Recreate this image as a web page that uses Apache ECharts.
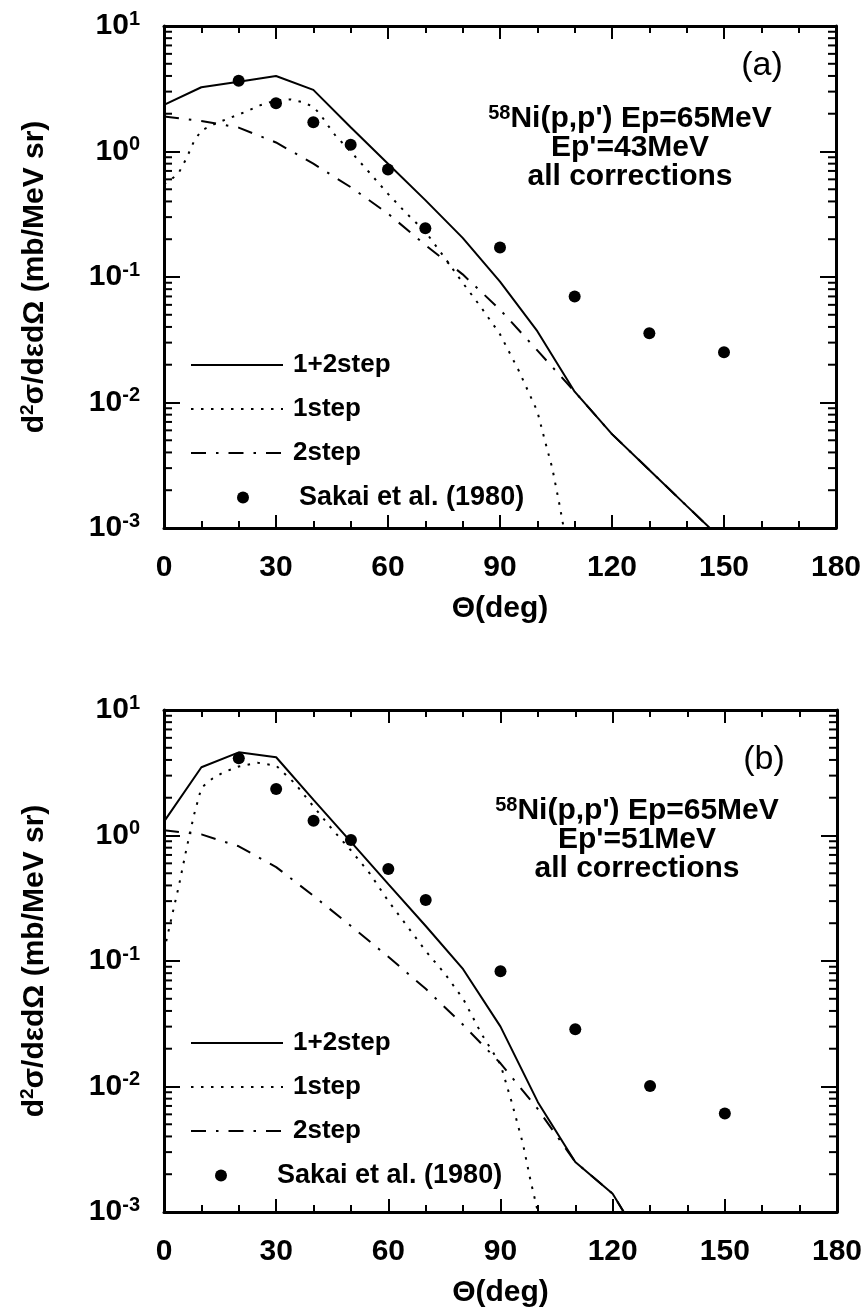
<!DOCTYPE html>
<html>
<head>
<meta charset="utf-8">
<script src="https://cdn.jsdelivr.net/npm/echarts@6/dist/echarts.min.js"></script>
<style>
  html, body { margin: 0; padding: 0; background: #fff; }
  #chart { width: 867px; height: 1313px; }
</style>
</head>
<body>
<div id="chart"></div>
<script>
// ---- data ---------------------------------------------------------------
// measured angles (deg) of the Sakai et al. (1980) points
const expAngles = [20, 30, 40, 50, 60, 70, 90, 110, 130, 150];

// (a) Ep' = 43 MeV
const sakaiA = [3.66, 2.42, 1.71, 1.13, 0.72, 0.245, 0.172, 0.070, 0.0356, 0.0251];
const calcAnglesA = [0, 10, 20, 30, 40, 50, 60, 70, 80, 90, 100, 110, 120, 130, 140, 150];
const totalA   = [2.35, 3.25, 3.6, 4.0, 3.1, 1.56, 0.80, 0.41, 0.205, 0.092, 0.037, 0.0122, 0.0056, 0.0029, 0.0015, 0.00078];
const twoStepA = [1.9, 1.75, 1.55, 1.18, 0.80, 0.52, 0.32, 0.18, 0.105, 0.055, 0.026, 0.0122, 0.0056, 0.0029, 0.0015, 0.00078];
const oneStepAnglesA = [0, 2, 4, 6, 8, 10, 14, 18, 22, 26, 30, 34, 37, 40, 42, 44, 46, 50, 55, 60, 65, 70, 75, 80, 85, 90, 95, 100, 102, 104, 106, 108];
const oneStepA = [0.55, 0.6, 0.68, 0.88, 1.2, 1.47, 1.68, 1.87, 2.08, 2.35, 2.55, 2.6, 2.48, 2.27, 1.95, 1.6, 1.33, 1.0, 0.68, 0.46, 0.32, 0.23, 0.145, 0.09, 0.057, 0.035, 0.018, 0.0085, 0.005, 0.003, 0.0015, 0.0007];

// (b) Ep' = 51 MeV
const sakaiB = [4.12, 2.35, 1.31, 0.92, 0.54, 0.306, 0.083, 0.0286, 0.0101, 0.0061];
const calcAnglesB = [0, 10, 20, 30, 40, 50, 60, 70, 80, 90, 100, 110, 120, 130];
const totalB   = [1.29, 3.5, 4.6, 4.2, 1.92, 0.89, 0.41, 0.19, 0.086, 0.030, 0.0075, 0.0025, 0.0014, 0.00045];
const twoStepB = [1.1, 1.02, 0.82, 0.56, 0.33, 0.19, 0.108, 0.06, 0.031, 0.0153, 0.0066, 0.0025, 0.0014, 0.00045];
const oneStepAnglesB = [0, 2, 4, 6, 8, 10, 13, 16, 20, 25, 30, 35, 40, 45, 50, 55, 60, 65, 70, 75, 80, 85, 90, 93, 96, 98, 100, 102];
const oneStepB = [0.12, 0.22, 0.4, 0.78, 1.45, 2.4, 2.85, 3.2, 3.55, 3.8, 3.6, 2.6, 1.7, 1.12, 0.76, 0.5, 0.3, 0.19, 0.12, 0.08, 0.05, 0.026, 0.015, 0.0075, 0.0035, 0.0018, 0.001, 0.0005];

// axis ranges and tick labels
const xTickLabels = [0, 30, 60, 90, 120, 150, 180];
const yDecades = [-3, -2, -1, 0, 1];

// ---- helpers ------------------------------------------------------------
const FONT = "'Liberation Sans', Arial, Helvetica, sans-serif";
const pairs = (xs, ys) => xs.map((x, i) => [x, ys[i]]);

// 2..9 x 10^k positions for the log-axis minor ticks
const logMinorTicks = [];
for (let i = 0; i < yDecades.length - 1; i++) {
  for (let m = 2; m <= 9; m++) {
    logMinorTicks.push(Number((m * Math.pow(10, yDecades[i])).toPrecision(3)));
  }
}

const black = '#000';
const frame = { lineStyle: { color: black, width: 3 } };

function xAxisPair(g) {
  const base = {
    type: 'value', gridIndex: g, min: xTickLabels[0], max: xTickLabels[xTickLabels.length - 1], interval: 30,
    axisLine: { onZero: false, ...frame },
    axisTick: { inside: true, length: 13, lineStyle: { color: black, width: 2 } },
    minorTick: { show: true, splitNumber: 3, length: 7, lineStyle: { color: black, width: 2 } },
    splitLine: { show: false }, minorSplitLine: { show: false }
  };
  return [
    { ...base, position: 'bottom',
      axisLabel: { margin: 25, fontSize: 30, fontWeight: 'bold', fontFamily: FONT, color: black },
      name: 'Θ(deg)', nameLocation: 'middle', nameGap: 66,
      nameTextStyle: { fontSize: 30, fontWeight: 'bold', fontFamily: FONT, color: black } },
    { ...base, position: 'top', axisLabel: { show: false } }
  ];
}

function yAxisPair(g) {
  const base = {
    type: 'log', logBase: 10, gridIndex: g,
    min: Math.pow(10, yDecades[0]), max: Math.pow(10, yDecades[yDecades.length - 1]),
    axisLine: { onZero: false, ...frame },
    axisTick: { inside: true, length: 16, lineStyle: { color: black, width: 2 } },
    splitLine: { show: false }
  };
  return [
    { ...base, position: 'left',
      axisLabel: {
        margin: 24, color: black,
        formatter: v => '{b|10}{s|' + Math.round(Math.log10(v)) + '}',
        rich: {
          b: { fontSize: 30, fontWeight: 'bold', fontFamily: FONT, color: black, lineHeight: 34 },
          s: { fontSize: 20, fontWeight: 'bold', fontFamily: FONT, color: black, verticalAlign: 'top', lineHeight: 20 }
        }
      },
      name: '{a|d}{s|2}{a|σ/dεdΩ (mb/MeV sr)}', nameLocation: 'middle', nameRotate: 90, nameGap: 112,
      nameTextStyle: {
        rich: {
          a: { fontSize: 30, fontWeight: 'bold', fontFamily: FONT, color: black, lineHeight: 34 },
          s: { fontSize: 19, fontWeight: 'bold', fontFamily: FONT, color: black, verticalAlign: 'top', lineHeight: 19 }
        }
      } },
    { ...base, position: 'right', axisLabel: { show: false } }
  ];
}

const solidStyle = { color: black, width: 2, type: 'solid' };
const dotStyle = { color: black, width: 2, type: [2.5, 7.5] };
const dashDotStyle = { color: black, width: 2, type: [15, 10, 2.5, 10] };

function panelSeries(xi, yi, total, two, oneAngles, one, calcAngles, sakai) {
  const line = (name, data, ls) => ({
    name, type: 'line', xAxisIndex: xi, yAxisIndex: yi, data,
    symbol: 'none', smooth: false, lineStyle: ls, itemStyle: { color: black }, z: 3
  });
  return [
    line('1+2step', pairs(calcAngles, total), solidStyle),
    line('1step', pairs(oneAngles, one), dotStyle),
    line('2step', pairs(calcAngles, two), dashDotStyle),
    { name: 'Sakai et al. (1980)', type: 'scatter', xAxisIndex: xi, yAxisIndex: yi,
      data: pairs(expAngles, sakai), symbol: 'circle', symbolSize: 12,
      itemStyle: { color: black, opacity: 1 }, z: 4 },
    { type: 'custom', xAxisIndex: xi, yAxisIndex: yi, silent: true, clip: false, z: 5,
      data: logMinorTicks.map(v => [0, v]),
      renderItem(params, api) {
        const v = api.value(1);
        const l = api.coord([0, v]);
        const r = api.coord([180, v]);
        const st = { stroke: black, lineWidth: 2 };
        return { type: 'group', children: [
          { type: 'line', shape: { x1: l[0], y1: l[1], x2: l[0] + 8, y2: l[1] }, style: st },
          { type: 'line', shape: { x1: r[0] - 8, y1: r[1], x2: r[0], y2: r[1] }, style: st }
        ] };
      } }
  ];
}

const legendText = { fontSize: 26, fontWeight: 'bold', fontFamily: FONT, color: black, padding: [0, 0, 0, 5] };
function lineLegend(left, top) {
  return { data: ['1+2step', '1step', '2step'], orient: 'vertical', left, top, padding: 0,
    itemWidth: 92, itemHeight: 14, itemGap: 18, selectedMode: false,
    itemStyle: { opacity: 0 }, textStyle: legendText };
}
function dotLegend(left, top) {
  return { data: ['Sakai et al. (1980)'], orient: 'vertical', left, top, padding: 0,
    itemWidth: 92, itemHeight: 12, selectedMode: false,
    itemStyle: { opacity: 1 },
    textStyle: { ...legendText, fontSize: 27 } };
}

function annotation(tag, tagX, tagY, cx, y0, epPrime) {
  const t = { fontSize: 30, fontWeight: 'bold', fontFamily: FONT, fill: black };
  return [
    { type: 'text', x: tagX, y: tagY, silent: true,
      style: { text: tag, fontSize: 34, fontWeight: 'normal', fontFamily: FONT, fill: black, align: 'center', verticalAlign: 'middle' } },
    { type: 'text', x: cx, y: y0, silent: true,
      style: { text: '{s|58}{t|Ni(p,p\') Ep=65MeV}', align: 'center', verticalAlign: 'middle',
        rich: { t: { ...t, lineHeight: 32 }, s: { fontSize: 20, fontWeight: 'bold', fontFamily: FONT, fill: black, verticalAlign: 'top', lineHeight: 20 } } } },
    { type: 'text', x: cx, y: y0 + 29, silent: true,
      style: { text: epPrime, ...t, align: 'center', verticalAlign: 'middle' } },
    { type: 'text', x: cx, y: y0 + 58, silent: true,
      style: { text: 'all corrections', ...t, align: 'center', verticalAlign: 'middle' } }
  ];
}

const chart = echarts.init(document.getElementById('chart'), null, { renderer: 'canvas' });
chart.setOption({
  animation: false,
  backgroundColor: '#fff',
  grid: [
    { left: 164, top: 26, width: 672, height: 502 },
    { left: 164, top: 710, width: 673, height: 502 }
  ],
  xAxis: [...xAxisPair(0), ...xAxisPair(1)],
  yAxis: [...yAxisPair(0), ...yAxisPair(1)],
  legend: [
    lineLegend(190, 352), dotLegend(237, 484),
    lineLegend(190, 1030), dotLegend(215, 1162)
  ],
  series: [
    ...panelSeries(0, 0, totalA, twoStepA, oneStepAnglesA, oneStepA, calcAnglesA, sakaiA),
    ...panelSeries(2, 2, totalB, twoStepB, oneStepAnglesB, oneStepB, calcAnglesB, sakaiB)
  ],
  graphic: [
    ...annotation('(a)', 762, 66, 630, 119, "Ep'=43MeV"),
    ...annotation('(b)', 764, 760, 637, 811, "Ep'=51MeV")
  ]
});
</script>
</body>
</html>
